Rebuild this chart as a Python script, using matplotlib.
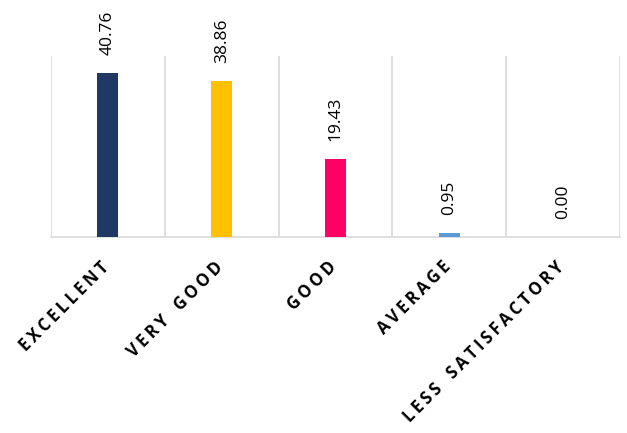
import matplotlib.pyplot as plt
import matplotlib.transforms as mtransforms
import numpy as np

categories = ['EXCELLENT', 'VERY GOOD', 'GOOD', 'AVERAGE', 'LESS SATISFACTORY']
values = [40.76, 38.86, 19.43, 0.95, 0.00]
colors = ['#203864', '#FFC000', '#FF0066', '#5B9BD5', '#A5A5A5']

fig = plt.figure(figsize=(6.27, 4.33), dpi=100)
ax = fig.add_axes([0.0813, 0.4527, 0.9077, 0.418])

x = np.arange(len(categories))
bars = ax.bar(x, values, width=0.185, color=colors, zorder=3)

ax.set_xlim(-0.5, len(categories) - 0.5)
ax.set_ylim(0, 45)

# category separators
for sep in np.arange(-0.5, len(categories) + 0.5, 1.0):
    ax.axvline(sep, color='#d9d9d9', lw=1.2, zorder=1)

for s in ['top', 'right', 'left']:
    ax.spines[s].set_visible(False)
ax.spines['bottom'].set_color('#d9d9d9')
ax.spines['bottom'].set_linewidth(1.2)
ax.set_yticks([])
ax.tick_params(axis='x', length=0, pad=15)

# data labels
for xi, v in zip(x, values):
    ax.annotate(f'{v:.2f}', (xi, v), xytext=(0, 13), textcoords='offset points',
                rotation=90, ha='center', va='bottom', fontsize=12.5,
                family=['Open Sans', 'DejaVu Sans'], color='#000000')

# spaced, bold, rotated category labels
spaced = ['\u2009'.join(c).replace('\u2009 \u2009', '\u2009 \u2009\u2009') for c in categories]
ax.set_xticks(x)
labels = ax.set_xticklabels(spaced, rotation=45, ha='right', rotation_mode='anchor',
                            fontsize=12, fontweight='bold',
                            family=['Open Sans', 'DejaVu Sans'], color='#000000')
shift = mtransforms.ScaledTranslation(-0.08, 0, fig.dpi_scale_trans)
for lab in labels:
    lab.set_transform(lab.get_transform() + shift)

fig.savefig('out.png', dpi=100)
